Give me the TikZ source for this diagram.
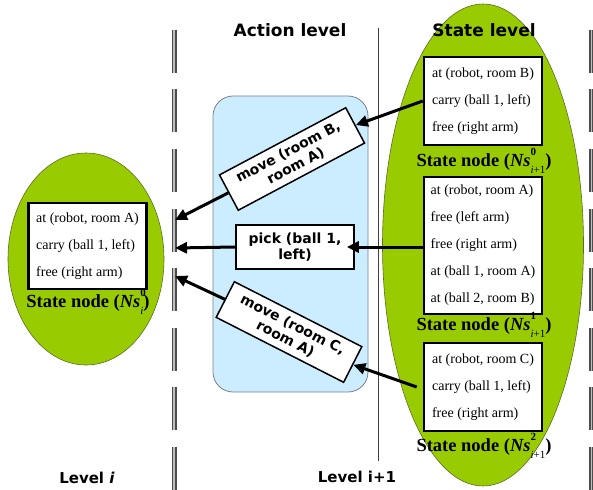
\documentclass[tikz,border=0pt]{standalone}
\usepackage{fontspec}
\setmainfont{Liberation Serif}
\newfontfamily\vsans{DejaVu Sans}
\usetikzlibrary{arrows.meta}

\definecolor{leafgreen}{RGB}{153,204,0}
\definecolor{leafedge}{RGB}{90,110,40}
\definecolor{paleblue}{RGB}{204,236,255}
\definecolor{paneledge}{RGB}{120,130,140}

% Ns with a superscript index and a subscript level
\newcommand\nsidx[2]{{\bfseries\itshape Ns}\makebox[0pt][l]{\raisebox{0.55em}{\fontsize{11}{11}\selectfont\bfseries #1}}\raisebox{-0.38em}{\fontsize{11}{11}\selectfont\mdseries #2}}

\tikzset{
  statebox/.style={draw=black, line width=2.5pt, fill=white, align=left,
    minimum width=118pt, inner xsep=4pt, inner ysep=0pt,
    font=\fontsize{14}{27}\selectfont},
  statelabel/.style={anchor=base, inner sep=0pt, font=\bfseries\fontsize{18.5}{18.5}\selectfont},
  actbox/.style={draw=black, line width=1.5pt, fill=white, align=center,
    inner sep=0pt, font=\vsans\bfseries\fontsize{14}{16}\selectfont},
  title/.style={anchor=base, inner sep=0pt, font=\vsans\bfseries\fontsize{17}{17}\selectfont},
  levellabel/.style={anchor=base, inner sep=0pt, font=\vsans\bfseries\fontsize{15}{15}\selectfont},
  flow/.style={line width=3pt, -{Triangle[length=12pt,width=11pt]}},
  boundary/.style={line width=1.8pt, draw=black!70, double=black!25, double distance=1.4pt,
    dash pattern=on 43pt off 16.5pt},
}

\begin{document}
\begin{tikzpicture}[x=1pt, y=-1pt]
  \useasboundingbox (0,0) rectangle (593,489);
  \fill[white] (0,0) rectangle (593,489);

  % separators between the levels
  \draw[black!75, line width=0.8pt] (378,28) -- (378,461);
  \draw[boundary] (174,30) -- (174,492);
  \draw[boundary] (591.5,30) -- (591.5,492);

  % state sets and the action panel
  \draw[fill=leafgreen, draw=leafedge, line width=0.6pt] (86,259) ellipse [x radius=78, y radius=106];
  \draw[fill=leafgreen, draw=leafedge, line width=0.6pt] (483,245) ellipse [x radius=100.5, y radius=241];
  \draw[fill=paleblue, draw=paneledge, line width=0.8pt, rounded corners=20pt] (213,96) rectangle (368,392);

  % titles
  \node[title] (acttitle) at (290,37) {Action level};
  \node[title] (statetitle) at (484,37) {State level};
  \node[levellabel] (levi) at (87,483) {Level \textit{i}};
  \node[levellabel] (levj) at (357,482) {Level i+1};

  % state nodes
  \node[statebox, minimum height=86pt] (s0) at (87.5,246)
    {at (robot, room A)\\carry (ball 1, left)\\free (right arm)};
  \node[statelabel] (l0) at (88,307) {State node (\nsidx{0}{\textit{i}})};

  \node[statebox, minimum height=88pt] (s1) at (483,101)
    {at (robot, room B)\\carry (ball 1, left)\\free (right arm)};
  \node[statelabel] (l1) at (484,166) {State node (\nsidx{0}{\textit{i}+1})};

  \node[statebox, minimum height=137pt] (s2) at (483,245.5)
    {at (robot, room A)\\free (left arm)\\free (right arm)\\at (ball 1, room A)\\at (ball 2, room B)};
  \node[statelabel] (l2) at (484,330) {State node (\nsidx{1}{\textit{i}+1})};

  \node[statebox, minimum height=88pt] (s3) at (483,387)
    {at (robot, room C)\\carry (ball 1, left)\\free (right arm)};
  \node[statelabel] (l3) at (484,451) {State node (\nsidx{2}{\textit{i}+1})};

  % actions
  \node[actbox, minimum width=143pt, minimum height=40pt, rotate=28] (mB) at (292,159)
    {move (room B,\\room A)};
  \node[actbox, minimum width=118pt, minimum height=44pt] (pk) at (295,247)
    {pick (ball 1,\\left)};
  \node[actbox, minimum width=143pt, minimum height=40pt, rotate=-27] (mC) at (289,332)
    {move (room C,\\room A)};

  % arrow ends on the level-i boundary
  \coordinate (tB) at (175,220);
  \coordinate (tP) at (175,248);
  \coordinate (tC) at (175,276);

  % connectors
  \draw[flow] (s1.west) -- (mB.east);
  \draw[flow] (mB.west) -- (tB);
  \draw[flow, shorten >=-8pt] (s2.west |- pk.east) -- (pk.east);
  \draw[flow] (pk.west) -- (tP);
  \draw[flow] ([xshift=-6pt]s3.west) -- (mC.east);
  \draw[flow] (mC.west) -- (tC);
\end{tikzpicture}
\end{document}
